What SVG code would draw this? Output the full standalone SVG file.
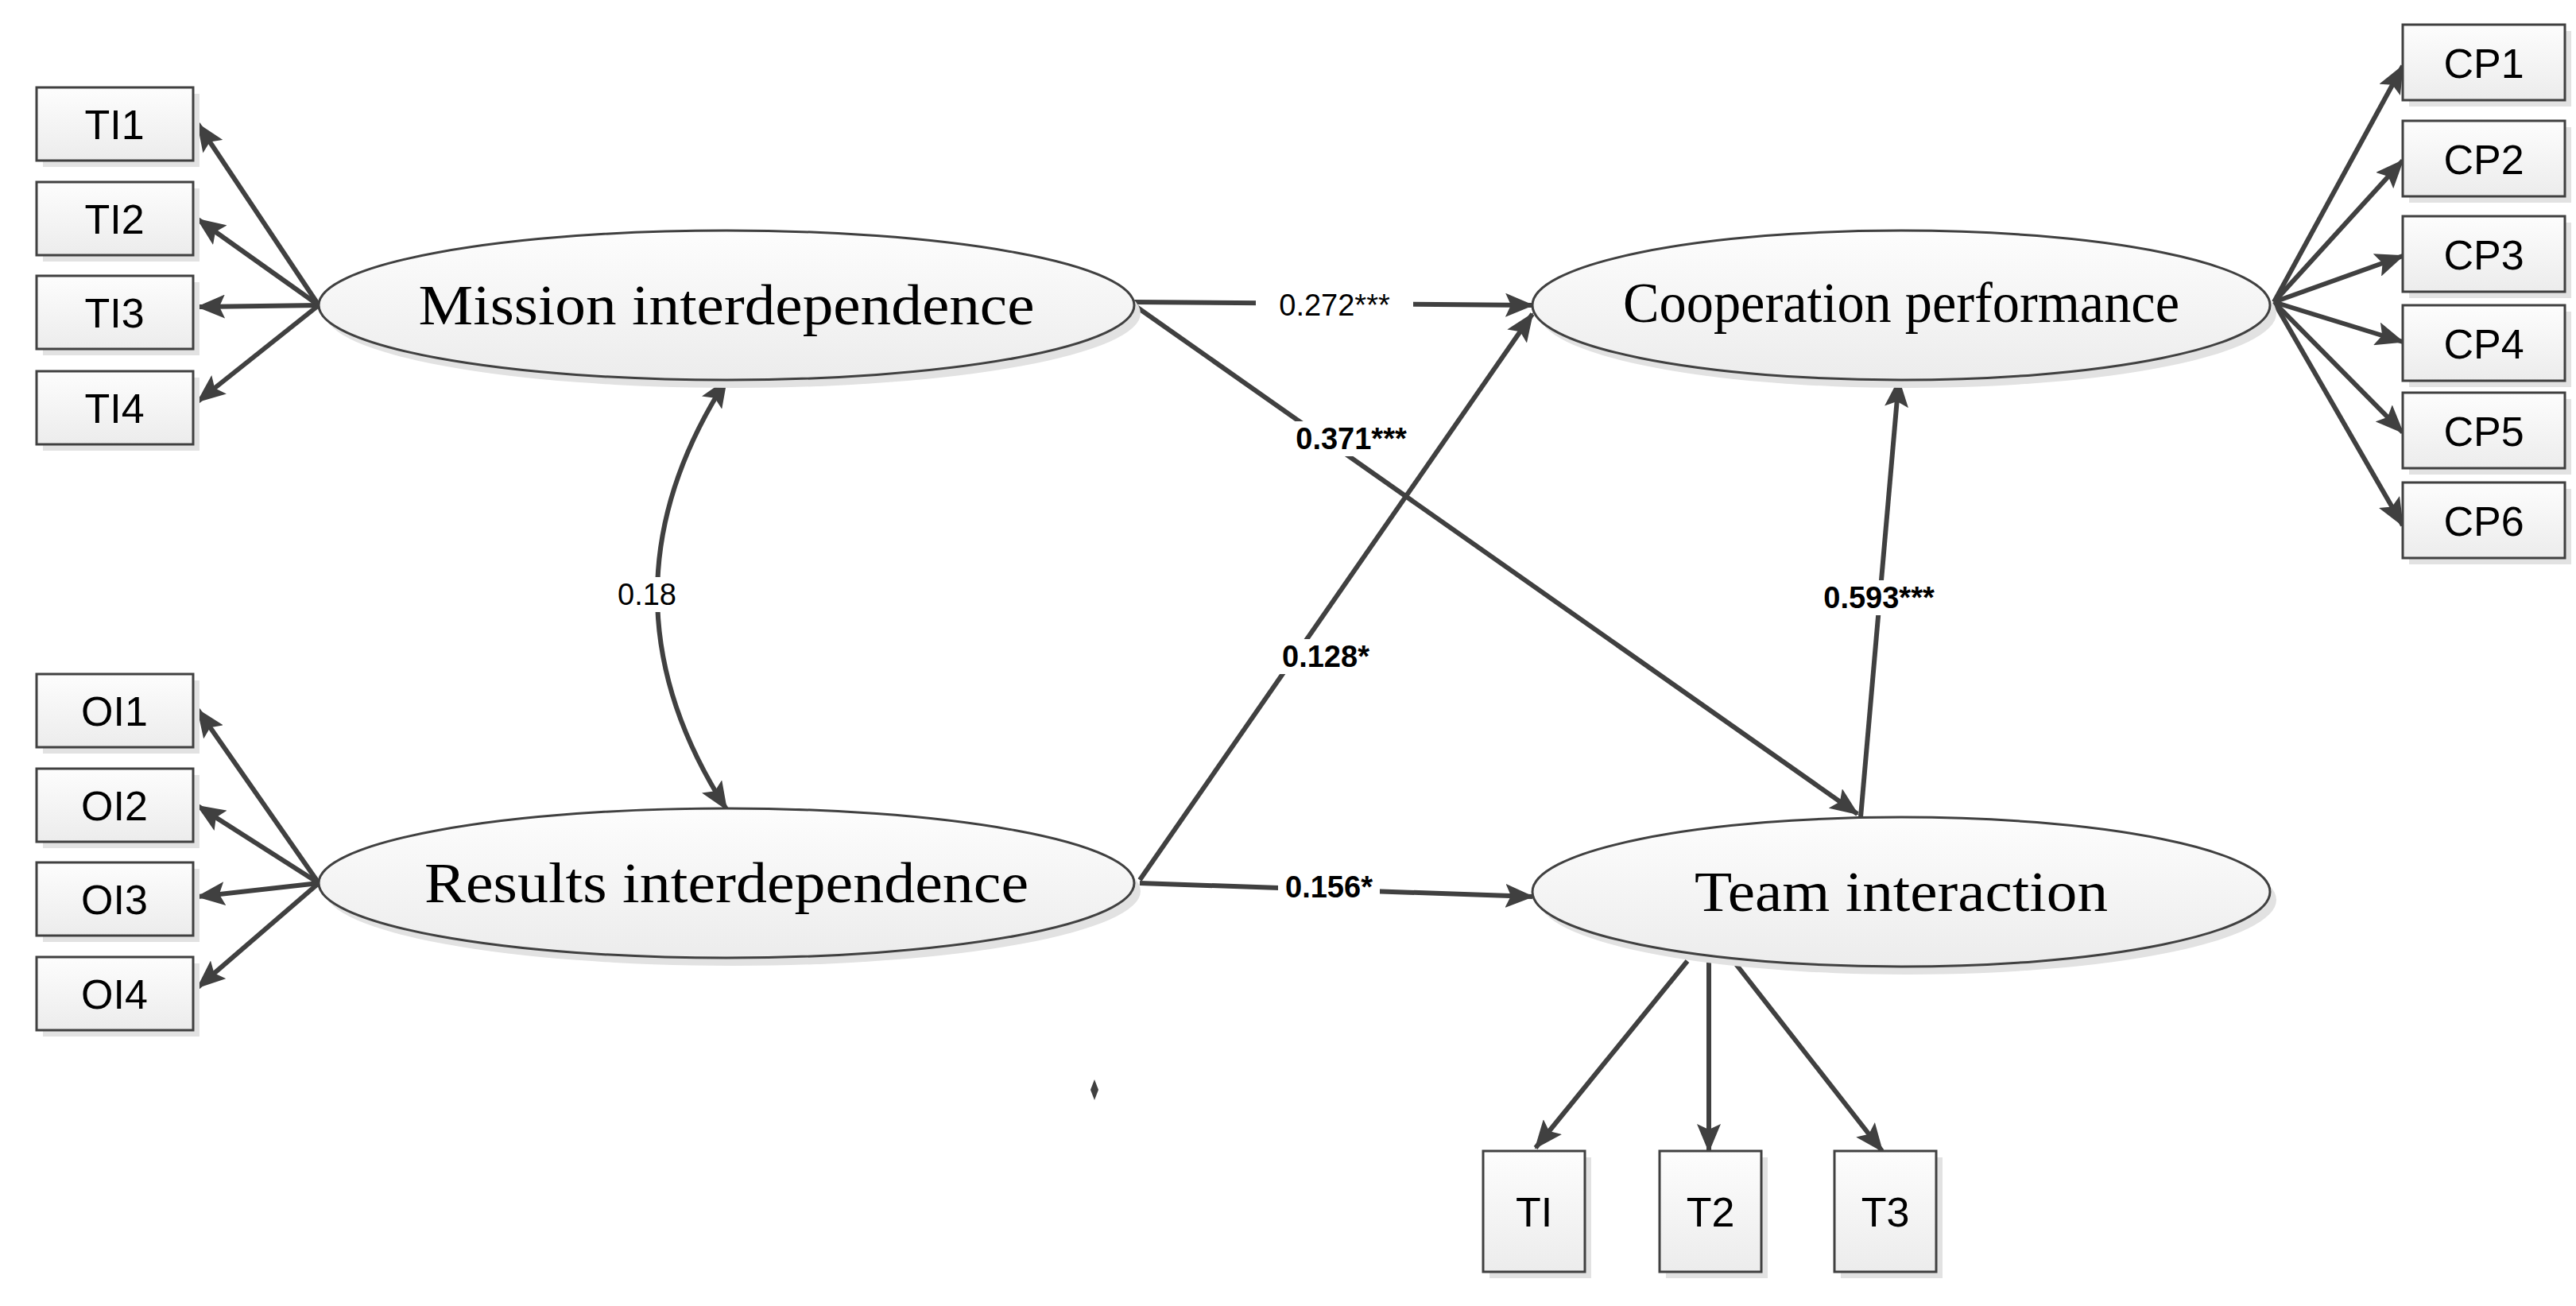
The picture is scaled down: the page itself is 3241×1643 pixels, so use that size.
<svg xmlns="http://www.w3.org/2000/svg" width="3241" height="1643" viewBox="0 0 3241 1643">
<defs>
<linearGradient id="g" x1="0" y1="0" x2="0" y2="1"><stop offset="0" stop-color="#fdfdfd"/><stop offset="1" stop-color="#ececec"/></linearGradient>
<marker id="ah" markerWidth="36" markerHeight="30" refX="34" refY="15" orient="auto" markerUnits="userSpaceOnUse"><path d="M0,0 L36,15 L0,30 L7,15 Z" fill="#404040"/></marker>
<marker id="as" markerWidth="36" markerHeight="30" refX="2" refY="15" orient="auto" markerUnits="userSpaceOnUse"><path d="M36,0 L0,15 L36,30 L29,15 Z" fill="#404040"/></marker>
</defs>
<style>
.box{fill:url(#g);stroke:#404040;stroke-width:3}
.sh{fill:#e2e2e2}
.ell{fill:url(#g);stroke:#404040;stroke-width:3}
.bt{font-family:"Liberation Sans",Arial,sans-serif;font-size:52px;text-anchor:middle;fill:#000}
.et{font-family:"Liberation Serif","Times New Roman",serif;font-size:72px;text-anchor:middle;fill:#000}
.c{stroke:#404040;stroke-width:6;fill:none;marker-end:url(#ah)}
.lt{font-family:"Liberation Sans",Arial,sans-serif;font-size:38px;text-anchor:middle;fill:#000}
.lb{font-weight:bold}
</style>
<rect width="3241" height="1643" fill="#fff"/>
<g id="connectors">
<line class="c" x1="401" y1="384" x2="249" y2="156"/>
<line class="c" x1="401" y1="384" x2="249" y2="276"/>
<line class="c" x1="401" y1="384" x2="249" y2="386"/>
<line class="c" x1="401" y1="384" x2="249" y2="505"/>
<line class="c" x1="401" y1="1111" x2="249" y2="893"/>
<line class="c" x1="401" y1="1111" x2="249" y2="1014"/>
<line class="c" x1="401" y1="1111" x2="249" y2="1128"/>
<line class="c" x1="401" y1="1111" x2="249" y2="1242"/>
<line class="c" x1="2861" y1="380" x2="3023" y2="83"/>
<line class="c" x1="2861" y1="380" x2="3023" y2="202"/>
<line class="c" x1="2861" y1="380" x2="3023" y2="322"/>
<line class="c" x1="2861" y1="380" x2="3023" y2="430"/>
<line class="c" x1="2861" y1="380" x2="3023" y2="544"/>
<line class="c" x1="2861" y1="380" x2="3023" y2="661"/>
<line class="c" x1="2123" y1="1209" x2="1932" y2="1444"/>
<line class="c" x1="2150" y1="1209" x2="2150" y2="1448"/>
<line class="c" x1="2181" y1="1209" x2="2368" y2="1448"/>
<line class="c" x1="1427" y1="380" x2="1928" y2="384"/>
<line class="c" x1="1427" y1="384" x2="2337" y2="1024"/>
<line class="c" x1="1434" y1="1107" x2="1928" y2="395"/>
<line class="c" x1="1434" y1="1111" x2="1928" y2="1128"/>
<line class="c" x1="2341" y1="1028" x2="2389" y2="478"/>
<path d="M914,478 Q740,748 914,1018" stroke="#404040" stroke-width="6" fill="none" marker-start="url(#as)" marker-end="url(#ah)"/>
<rect x="1580" y="362" width="198" height="44" fill="#fff"/>
<text class="lt" x="1679" y="397">0.272***</text>
<rect x="1606" y="530" width="188" height="44" fill="#fff"/>
<text class="lt lb" x="1700" y="565">0.371***</text>
<rect x="1604" y="804" width="128" height="44" fill="#fff"/>
<text class="lt lb" x="1668" y="839">0.128*</text>
<rect x="1608" y="1094" width="128" height="44" fill="#fff"/>
<text class="lt lb" x="1672" y="1129">0.156*</text>
<rect x="2270" y="730" width="188" height="44" fill="#fff"/>
<text class="lt lb" x="2364" y="765">0.593***</text>
<rect x="774" y="726" width="80" height="44" fill="#fff"/>
<text class="lt" x="814" y="761">0.18</text>
</g>
<path d="M1377,1358 L1382,1371 L1377,1384 L1372,1371 Z" fill="#404040"/>
<g id="mission"><ellipse class="sh" cx="922" cy="394" rx="513" ry="94"/><ellipse class="ell" cx="914" cy="384" rx="513" ry="94"/><text class="et" x="914" y="408" textLength="775" lengthAdjust="spacingAndGlyphs">Mission interdependence</text></g>
<g id="results"><ellipse class="sh" cx="922" cy="1121" rx="513" ry="94"/><ellipse class="ell" cx="914" cy="1111" rx="513" ry="94"/><text class="et" x="914" y="1135" textLength="760" lengthAdjust="spacingAndGlyphs">Results interdependence</text></g>
<g id="coop"><ellipse class="sh" cx="2400" cy="394" rx="464" ry="94"/><ellipse class="ell" cx="2392" cy="384" rx="464" ry="94"/><text class="et" x="2392" y="405" font-size="64" textLength="700" lengthAdjust="spacingAndGlyphs">Cooperation performance</text></g>
<g id="team"><ellipse class="sh" cx="2400" cy="1132" rx="464" ry="94"/><ellipse class="ell" cx="2392" cy="1122" rx="464" ry="94"/><text class="et" x="2392" y="1146" textLength="520" lengthAdjust="spacingAndGlyphs">Team interaction</text></g>
<g id="TI1"><rect class="sh" x="54" y="118" width="197" height="92"/><rect class="box" x="46" y="110" width="197" height="92"/><text class="bt" x="144" y="175">TI1</text></g>
<g id="TI2"><rect class="sh" x="54" y="237" width="197" height="92"/><rect class="box" x="46" y="229" width="197" height="92"/><text class="bt" x="144" y="294">TI2</text></g>
<g id="TI3"><rect class="sh" x="54" y="355" width="197" height="92"/><rect class="box" x="46" y="347" width="197" height="92"/><text class="bt" x="144" y="412">TI3</text></g>
<g id="TI4"><rect class="sh" x="54" y="475" width="197" height="92"/><rect class="box" x="46" y="467" width="197" height="92"/><text class="bt" x="144" y="532">TI4</text></g>
<g id="OI1"><rect class="sh" x="54" y="856" width="197" height="92"/><rect class="box" x="46" y="848" width="197" height="92"/><text class="bt" x="144" y="913">OI1</text></g>
<g id="OI2"><rect class="sh" x="54" y="975" width="197" height="92"/><rect class="box" x="46" y="967" width="197" height="92"/><text class="bt" x="144" y="1032">OI2</text></g>
<g id="OI3"><rect class="sh" x="54" y="1093" width="197" height="92"/><rect class="box" x="46" y="1085" width="197" height="92"/><text class="bt" x="144" y="1150">OI3</text></g>
<g id="OI4"><rect class="sh" x="54" y="1212" width="197" height="92"/><rect class="box" x="46" y="1204" width="197" height="92"/><text class="bt" x="144" y="1269">OI4</text></g>
<g id="CP1"><rect class="sh" x="3031" y="39" width="204" height="95"/><rect class="box" x="3023" y="31" width="204" height="95"/><text class="bt" x="3125" y="98">CP1</text></g>
<g id="CP2"><rect class="sh" x="3031" y="160" width="204" height="95"/><rect class="box" x="3023" y="152" width="204" height="95"/><text class="bt" x="3125" y="219">CP2</text></g>
<g id="CP3"><rect class="sh" x="3031" y="280" width="204" height="95"/><rect class="box" x="3023" y="272" width="204" height="95"/><text class="bt" x="3125" y="339">CP3</text></g>
<g id="CP4"><rect class="sh" x="3031" y="392" width="204" height="95"/><rect class="box" x="3023" y="384" width="204" height="95"/><text class="bt" x="3125" y="451">CP4</text></g>
<g id="CP5"><rect class="sh" x="3031" y="502" width="204" height="95"/><rect class="box" x="3023" y="494" width="204" height="95"/><text class="bt" x="3125" y="561">CP5</text></g>
<g id="CP6"><rect class="sh" x="3031" y="615" width="204" height="95"/><rect class="box" x="3023" y="607" width="204" height="95"/><text class="bt" x="3125" y="674">CP6</text></g>
<g id="T1"><rect class="sh" x="1874" y="1456" width="128" height="152"/><rect class="box" x="1866" y="1448" width="128" height="152"/><text class="bt" x="1930" y="1543">TI</text></g>
<g id="T2"><rect class="sh" x="2096" y="1456" width="128" height="152"/><rect class="box" x="2088" y="1448" width="128" height="152"/><text class="bt" x="2152" y="1543">T2</text></g>
<g id="T3"><rect class="sh" x="2316" y="1456" width="128" height="152"/><rect class="box" x="2308" y="1448" width="128" height="152"/><text class="bt" x="2372" y="1543">T3</text></g>
</svg>
